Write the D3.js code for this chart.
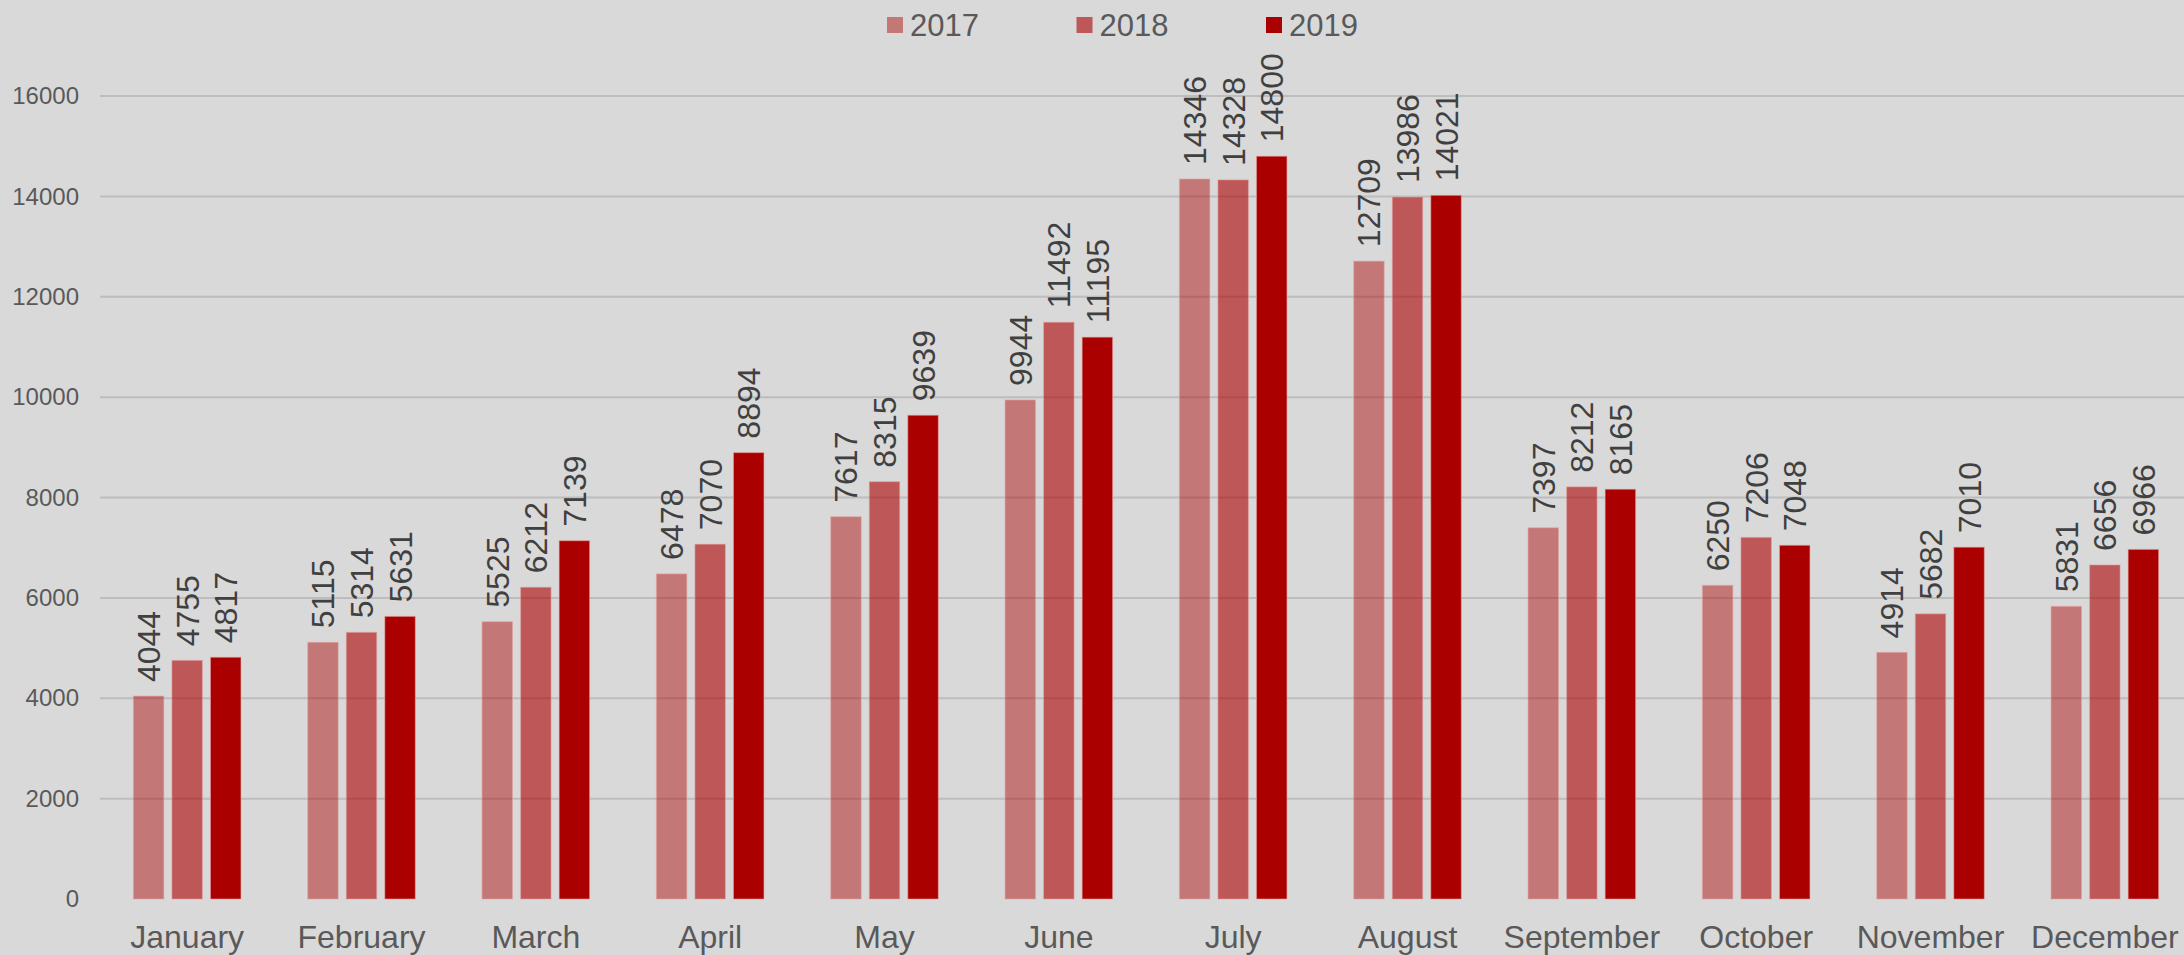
<!DOCTYPE html>
<html>
<head>
<meta charset="utf-8">
<script src="https://cdn.jsdelivr.net/npm/d3@7"></script>
<style>
    body { margin: 0; background: #d9d9d9; }
    svg { display: block; font-family: "Liberation Sans", Arial, sans-serif; }
</style>
</head>
<body>
<div id="chart"></div>
<script>
    // Data
    const months = ["January", "February", "March", "April", "May", "June",
        "July", "August", "September", "October", "November", "December"];
    const years = ["2017", "2018", "2019"];
    const values2017 = [4044, 5115, 5525, 6478, 7617, 9944, 14346, 12709, 7397, 6250, 4914, 5831];
    const values2018 = [4755, 5314, 6212, 7070, 8315, 11492, 14328, 13986, 8212, 7206, 5682, 6656];
    const values2019 = [4817, 5631, 7139, 8894, 9639, 11195, 14800, 14021, 8165, 7048, 7010, 6966];
    const yTicks = [0, 2000, 4000, 6000, 8000, 10000, 12000, 14000, 16000];

    const series = [values2017, values2018, values2019];
    const fills = ["#ab0000", "#ab0000", "#ab0000"];
    const opacities = [0.45, 0.6, 1];

    const svgWidth = 2184, svgHeight = 955;

    const svg = d3.select("#chart")
        .append("svg")
        .attr("width", svgWidth)
        .attr("height", svgHeight);

    svg.append("rect")
        .attr("width", svgWidth)
        .attr("height", svgHeight)
        .attr("fill", "#d9d9d9");

    // scales
    const x0 = d3.scaleBand()
        .domain(months)
        .range([100, 2192])
        .paddingInner(0.383)
        .paddingOuter(0.1915);
    const x1 = d3.scaleBand()
        .domain(years)
        .range([0, x0.bandwidth()])
        .paddingInner(0.21);
    const y = d3.scaleLinear()
        .domain([0, 16000])
        .range([899, 96]);

    // gridlines
    svg.append("g")
        .selectAll("line")
        .data(yTicks.filter(d => d > 0))
        .join("line")
        .attr("x1", 100)
        .attr("x2", svgWidth)
        .attr("y1", d => y(d))
        .attr("y2", d => y(d))
        .attr("stroke", "#bdbdbd")
        .attr("stroke-width", 2);

    // y axis labels
    const yAxis = d3.axisLeft(y).tickValues(yTicks).tickFormat(d3.format("d")).tickSize(0).tickPadding(0);
    const yG = svg.append("g")
        .attr("transform", "translate(79,0)")
        .call(yAxis);
    yG.select(".domain").remove();
    yG.selectAll("text")
        .attr("font-family", "Liberation Sans, Arial, sans-serif")
        .attr("font-size", 24)
        .attr("fill", "#595959");

    // bars
    const groups = svg.append("g")
        .selectAll("g")
        .data(months)
        .join("g")
        .attr("transform", d => `translate(${x0(d)},0)`);

    const cells = groups.selectAll("g")
        .data((m, i) => years.map((yr, k) => ({ year: yr, k: k, value: series[k][i] })))
        .join("g");

    cells.append("rect")
        .attr("x", d => x1(d.year))
        .attr("y", d => y(d.value))
        .attr("width", x1.bandwidth())
        .attr("height", d => y(0) - y(d.value))
        .attr("fill", d => fills[d.k])
        .attr("fill-opacity", d => opacities[d.k])
        .attr("stroke", "#e8a0a0")
        .attr("stroke-opacity", 0.55)
        .attr("stroke-width", 1);

    // data labels
    cells.append("text")
        .attr("transform", d => `translate(${x1(d.year) + x1.bandwidth() / 2},${y(d.value) - 14}) rotate(-90)`)
        .attr("dy", "0.36em")
        .attr("font-size", 32)
        .attr("fill", "#404040")
        .text(d => d.value);

    // x axis labels
    const xAxis = d3.axisBottom(x0).tickSize(0).tickPadding(0);
    const xG = svg.append("g")
        .attr("transform", "translate(0,925)")
        .call(xAxis);
    xG.select(".domain").remove();
    xG.selectAll("text")
        .attr("font-family", "Liberation Sans, Arial, sans-serif")
        .attr("font-size", 32)
        .attr("dy", "0.71em")
        .attr("fill", "#595959");

    // legend
    const legend = svg.append("g")
        .selectAll("g")
        .data(years)
        .join("g")
        .attr("transform", (d, i) => `translate(${887 + i * 189.5},17)`);
    legend.append("rect")
        .attr("width", 16)
        .attr("height", 16)
        .attr("fill", (d, i) => fills[i])
        .attr("fill-opacity", (d, i) => opacities[i]);
    legend.append("text")
        .attr("x", 23)
        .attr("y", 19)
        .attr("font-size", 31)
        .attr("fill", "#595959")
        .text(d => d);
</script>
</body>
</html>
